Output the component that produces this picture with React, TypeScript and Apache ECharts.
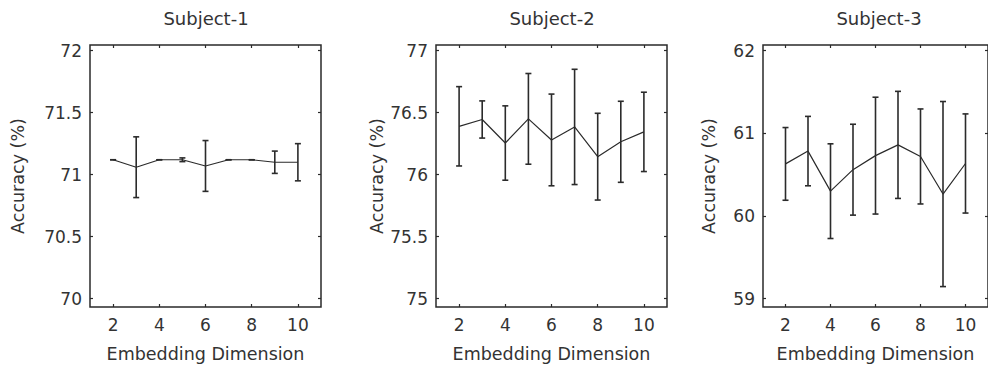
import React, { useEffect, useRef } from "react";
import * as echarts from "echarts";

const dims = [2, 3, 4, 5, 6, 7, 8, 9, 10];
const xTicks = [2, 4, 6, 8, 10];
const titles = ["Subject-1", "Subject-2", "Subject-3"];

const s1Mean = [71.12, 71.06, 71.12, 71.12, 71.07, 71.12, 71.12, 71.1, 71.1];
const s1Err = [0, 0.245, 0, 0.015, 0.205, 0, 0, 0.09, 0.15];
const s2Mean = [76.39, 76.445, 76.255, 76.45, 76.28, 76.385, 76.145, 76.265, 76.345];
const s2Err = [0.32, 0.15, 0.3, 0.366, 0.37, 0.465, 0.35, 0.327, 0.32];
const s3Mean = [60.63, 60.785, 60.3, 60.56, 60.73, 60.86, 60.72, 60.265, 60.635];
const s3Err = [0.44, 0.42, 0.573, 0.55, 0.707, 0.648, 0.575, 1.12, 0.6];

const yTicks1 = [70, 70.5, 71, 71.5, 72];
const yTicks2 = [75, 75.5, 76, 76.5, 77];
const yTicks3 = [59, 60, 61, 62];

const FONT = "DejaVu Sans";
const INK = "#2b2b2b";
const TXT = "#333333";

export default function App() {
  const ref = useRef<HTMLDivElement>(null);
  useEffect(() => {
    if (!ref.current) return;
    const chart = echarts.init(ref.current, undefined, { renderer: "svg" });
    const panels = [
      { left: 90, width: 231, mean: s1Mean, err: s1Err, ticks: yTicks1, min: 69.932, max: 72.046, nameGap: 63 },
      { left: 436, width: 231, mean: s2Mean, err: s2Err, ticks: yTicks2, min: 74.932, max: 77.046, nameGap: 49 },
      { left: 763, width: 230, mean: s3Mean, err: s3Err, ticks: yTicks3, min: 58.898, max: 62.069, nameGap: 45 },
    ];
    const top = 45;
    const height = 262;
    const grids: any[] = [];
    const xAxes: any[] = [];
    const yAxes: any[] = [];
    const series: any[] = [];
    const graphics: any[] = [];
    panels.forEach((p, i) => {
      grids.push({
        left: p.left, width: p.width, top, height,
        show: true, borderColor: "#2a2a2a", borderWidth: 1.5, backgroundColor: "transparent",
      });
      const tickBase = {
        show: true, inside: true, length: 3,
        lineStyle: { color: "#2a2a2a", width: 1.2 },
      };
      xAxes.push({
        type: "value", gridIndex: i, min: 1, max: 11, position: "bottom",
        name: "Embedding Dimension", nameLocation: "middle", nameGap: 38,
        nameTextStyle: { fontFamily: FONT, fontSize: 17.5, color: TXT },
        axisLine: { show: false },
        axisTick: { ...tickBase, customValues: xTicks },
        axisLabel: { customValues: xTicks, fontFamily: FONT, fontSize: 17, color: TXT, margin: 9 },
        splitLine: { show: false },
      });
      xAxes.push({
        type: "value", gridIndex: i, min: 1, max: 11, position: "top",
        axisLine: { show: false },
        axisTick: { ...tickBase, customValues: xTicks },
        axisLabel: { show: false },
        splitLine: { show: false },
      });
      yAxes.push({
        type: "value", gridIndex: i, min: p.min, max: p.max, position: "left",
        name: "Accuracy (%)", nameLocation: "middle", nameGap: p.nameGap,
        nameTextStyle: { fontFamily: FONT, fontSize: 17.5, color: TXT },
        axisLine: { show: false },
        axisTick: { ...tickBase, customValues: p.ticks },
        axisLabel: { customValues: p.ticks, fontFamily: FONT, fontSize: 17, color: TXT, margin: 8 },
        splitLine: { show: false },
      });
      yAxes.push({
        type: "value", gridIndex: i, min: p.min, max: p.max, position: "right",
        axisLine: { show: false },
        axisTick: { ...tickBase, customValues: p.ticks },
        axisLabel: { show: false },
        splitLine: { show: false },
      });
      series.push({
        type: "line", xAxisIndex: i * 2, yAxisIndex: i * 2,
        data: dims.map((d, k) => [d, p.mean[k]]),
        symbol: "none", lineStyle: { color: INK, width: 1.2 }, silent: true,
      });
      series.push({
        type: "custom", xAxisIndex: i * 2, yAxisIndex: i * 2,
        data: dims.map((d, k) => [d, p.mean[k] - p.err[k], p.mean[k] + p.err[k]]),
        encode: { x: 0, y: [1, 2] },
        renderItem: (params: any, api: any) => {
          const x = api.value(0);
          const lo = api.coord([x, api.value(1)]);
          const hi = api.coord([x, api.value(2)]);
          const w = 3;
          const style = { stroke: INK, lineWidth: 1.6, fill: null };
          return {
            type: "group",
            children: [
              { type: "line", shape: { x1: lo[0], y1: lo[1], x2: hi[0], y2: hi[1] }, style },
              { type: "line", shape: { x1: lo[0] - w, y1: lo[1], x2: lo[0] + w, y2: lo[1] }, style },
              { type: "line", shape: { x1: hi[0] - w, y1: hi[1], x2: hi[0] + w, y2: hi[1] }, style },
            ],
          };
        },
      });
      graphics.push({
        type: "text", x: p.left + 116, y: 18,
        style: { text: titles[i], fontFamily: FONT, fontSize: 18, fill: TXT, textAlign: "center", textVerticalAlign: "middle" },
      });
    });
    chart.setOption({
      animation: false,
      backgroundColor: "#ffffff",
      grid: grids,
      xAxis: xAxes,
      yAxis: yAxes,
      series,
      graphic: graphics,
    });
    return () => chart.dispose();
  }, []);
  return <div ref={ref} style={{ position: "absolute", left: 0, top: 0, width: 988, height: 374 }} />;
}
